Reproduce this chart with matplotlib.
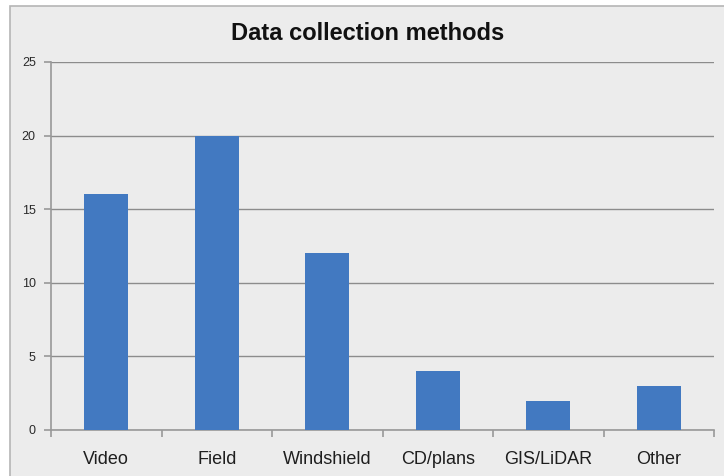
import matplotlib.pyplot as plt
from matplotlib.patches import Rectangle

plt.rcParams["font.family"] = ["Liberation Sans", "DejaVu Sans"]

categories = ["Video", "Field", "Windshield", "CD/plans", "GIS/LiDAR", "Other"]
counts = [16, 20, 12, 4, 2, 3]
y_ticks = [0, 5, 10, 15, 20, 25]

bg = "#ececec"
fig = plt.figure(figsize=(7.24, 4.76), dpi=100, facecolor="white")

# outer chart frame (cropped on the right and bottom)
frame = Rectangle((10 / 724, -0.05), 1.0, 1 - 6 / 476 + 0.05,
                  transform=fig.transFigure, facecolor=bg,
                  edgecolor="#b5b5b5", linewidth=1.2, zorder=-10)
fig.patches.append(frame)

ax = fig.add_axes([51 / 724, 1 - 430 / 476, 663 / 724, 368 / 476])
ax.set_zorder(5)
ax.set_facecolor(bg)

x = range(len(categories))
ax.bar(x, counts, width=0.4, color="#4279c1", zorder=3)

ax.set_xlim(-0.5, len(categories) - 0.5)
ax.set_ylim(0, 25)
ax.set_yticks(y_ticks)
ax.set_yticklabels([str(v) for v in y_ticks], fontsize=9, color="#2a2a2a")
ax.set_xticks(list(x))
ax.set_xticklabels(categories, fontsize=13, color="#1e1e1e")
ax.tick_params(axis="x", length=0, pad=15)
ax.set_xticks([i - 0.5 for i in range(len(categories) + 1)], minor=True)
ax.tick_params(axis="x", which="minor", length=5, color="#999999", width=1.2)
ax.tick_params(axis="y", length=5, color="#999999", width=1.2, pad=6)

ax.grid(axis="y", color="#8c8c8c", linewidth=1.0, zorder=1)
for s in ["top", "right"]:
    ax.spines[s].set_visible(False)
for s in ["left", "bottom"]:
    ax.spines[s].set_color("#999999")
    ax.spines[s].set_linewidth(1.2)

fig.text(368 / 724, 1 - 34 / 476, "Data collection methods", ha="center",
         va="center", fontsize=17, fontweight="bold", color="#111111")

fig.savefig("out.png", dpi=100, facecolor=fig.get_facecolor())
